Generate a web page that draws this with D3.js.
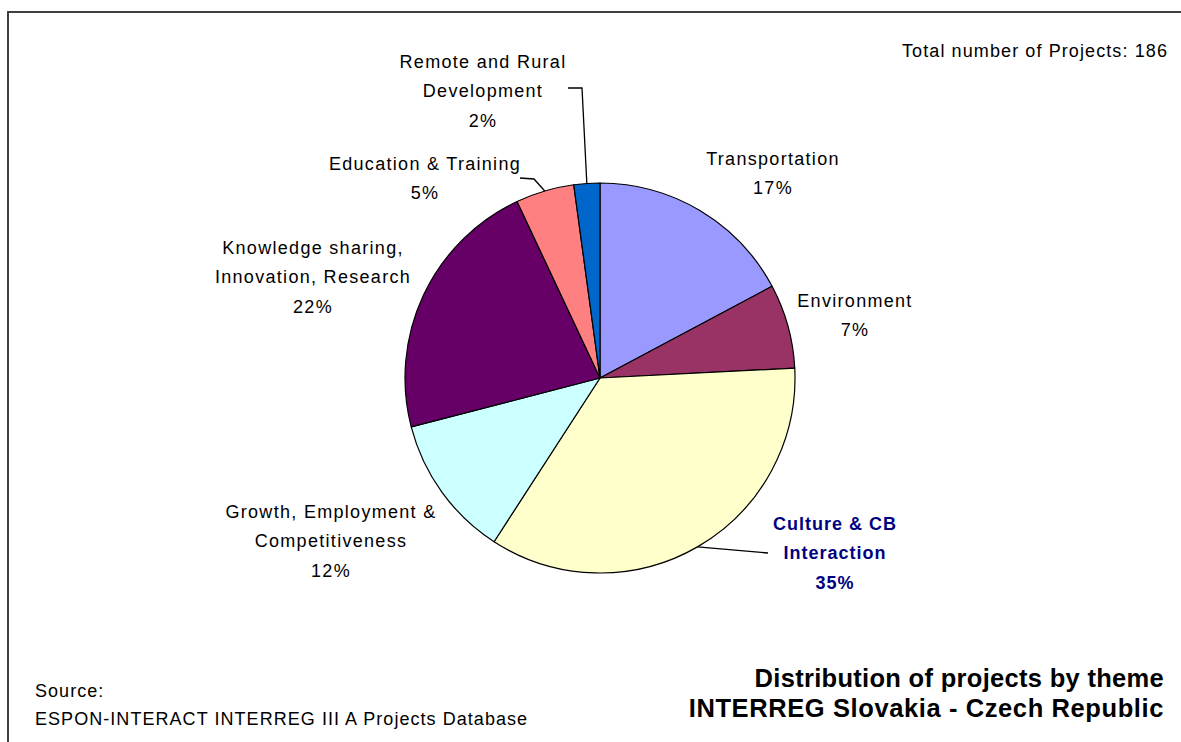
<!DOCTYPE html>
<html lang="en">
<head>
    <meta charset="UTF-8">
    <title>Distribution of projects by theme</title>
    <script src="https://cdn.jsdelivr.net/npm/d3@7"></script>
    <style>
        html, body {
            margin: 0;
            padding: 0;
            background: #ffffff;
        }

        svg text {
            font-family: Arial, "Liberation Sans", sans-serif;
            fill: #000;
        }
    </style>
</head>
<body>
<div id="chart"></div>
<script>
    // data (186 projects in total)
    let themes = ["Transportation", "Environment", "Culture & CB Interaction",
        "Growth, Employment & Competitiveness", "Knowledge sharing, Innovation, Research",
        "Education & Training", "Remote and Rural Development"];
    let counts = [32, 13, 65, 22, 41, 9, 4];
    let percents = ["17%", "7%", "35%", "12%", "22%", "5%", "2%"];
    let colors = ["#9999ff", "#993366", "#ffffcc", "#ccffff", "#660066", "#ff8080", "#0066cc"];
    let total = 186;

    // label layout: line breaks, centre x, first baseline, leader elbow points
    let labels = [
        {lines: ["Transportation"], x: 773, y: 165},
        {lines: ["Environment"], x: 855, y: 307},
        {lines: ["Culture & CB", "Interaction"], x: 835, y: 530, bold: true, leader: [[768, 553]]},
        {lines: ["Growth, Employment &", "Competitiveness"], x: 331, y: 518},
        {lines: ["Knowledge sharing,", "Innovation, Research"], x: 313, y: 254},
        {lines: ["Education & Training"], x: 425, y: 170, leader: [[534, 179], [520, 178]]},
        {lines: ["Remote and Rural", "Development"], x: 483, y: 68, leader: [[582, 88], [568, 88]]}
    ];

    let width = 1181, height = 742;
    let cx = 600, cy = 378, r = 195;
    let lh = 29.3;

    let svg = d3.select("#chart").append("svg")
        .attr("width", width)
        .attr("height", height);

    svg.append("rect")
        .attr("width", width)
        .attr("height", height)
        .attr("fill", "#ffffff");

    // frame (only left and top edges are visible)
    svg.append("path")
        .attr("d", "M8," + height + "V12H" + width)
        .attr("fill", "none")
        .attr("stroke", "#404040")
        .attr("stroke-width", 2);

    let data = themes.map(function (t, i) {
        return {theme: t, count: counts[i], pct: percents[i], color: colors[i], label: labels[i]};
    });

    let pie = d3.pie()
        .value(function (d) { return d.count; })
        .sort(null);

    let arc = d3.arc()
        .innerRadius(0)
        .outerRadius(r);

    let arcs = pie(data);

    let g = svg.append("g")
        .attr("transform", "translate(" + cx + "," + cy + ")");

    g.selectAll("path.slice")
        .data(arcs)
        .enter()
        .append("path")
        .attr("class", "slice")
        .attr("d", arc)
        .attr("fill", function (d) { return d.data.color; })
        .attr("stroke", "#000")
        .attr("stroke-width", 1.2)
        .attr("stroke-linejoin", "round");

    // leader lines from slice edge to the label
    arcs.forEach(function (d) {
        let lab = d.data.label;
        if (!lab.leader) return;
        let a = (d.startAngle + d.endAngle) / 2;
        let p = [cx + Math.sin(a) * r, cy - Math.cos(a) * r];
        let pts = [p].concat(lab.leader);
        svg.append("path")
            .attr("d", d3.line()(pts))
            .attr("fill", "none")
            .attr("stroke", "#000")
            .attr("stroke-width", 1.3);
    });

    // slice labels
    arcs.forEach(function (d) {
        let lab = d.data.label;
        let lines = lab.lines.concat([d.data.pct]);
        let t = svg.append("text")
            .attr("text-anchor", "middle")
            .style("font-size", "18px")
            .style("letter-spacing", lab.bold ? "1px" : "1.3px")
            .style("font-weight", lab.bold ? "bold" : "normal")
            .style("fill", lab.bold ? "#000080" : "#000");
        lines.forEach(function (s, i) {
            t.append("tspan")
                .attr("x", lab.x)
                .attr("y", lab.y + i * lh)
                .text(s);
        });
    });

    svg.append("text")
        .attr("x", 1168)
        .attr("y", 57)
        .attr("text-anchor", "end")
        .style("font-size", "18px")
        .style("letter-spacing", "1.1px")
        .text("Total number of Projects: " + total);

    let src = svg.append("text")
        .style("font-size", "18px")
        .style("letter-spacing", "1.05px");
    src.append("tspan").attr("x", 35).attr("y", 697).text("Source:");
    src.append("tspan").attr("x", 35).attr("y", 725).text("ESPON-INTERACT INTERREG III A Projects Database");

    let ttl = svg.append("text")
        .attr("text-anchor", "end")
        .style("font-size", "25.5px")
        .style("font-weight", "bold")
        .style("letter-spacing", "0.3px");
    ttl.append("tspan").attr("x", 1164).attr("y", 687).text("Distribution of projects by theme");
    ttl.append("tspan").attr("x", 1164).attr("y", 717).style("letter-spacing", "0.6px")
        .text("INTERREG Slovakia - Czech Republic");
</script>
</body>
</html>
